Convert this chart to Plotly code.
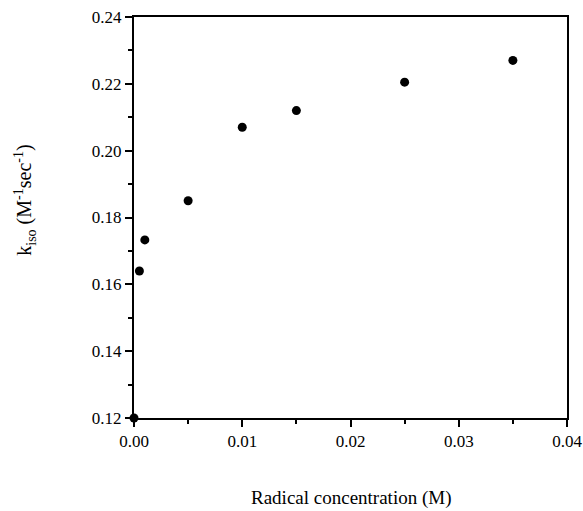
import plotly.graph_objects as go

radical_conc = [0.0, 0.0005, 0.001, 0.005, 0.010, 0.015, 0.025, 0.035]
k_iso = [0.120, 0.164, 0.1733, 0.185, 0.207, 0.212, 0.2205, 0.227]

font = "Liberation Serif, Times New Roman, serif"

fig = go.Figure()
fig.add_trace(go.Scatter(
    x=radical_conc, y=k_iso, mode="markers",
    marker=dict(color="black", size=9),
    cliponaxis=False, showlegend=False,
))

axis_common = dict(
    showgrid=False, zeroline=False, showline=True, linecolor="black", linewidth=2,
    mirror=True, ticks="outside", tickcolor="black", tickwidth=2, ticklen=7,
    tickfont=dict(family=font, size=17, color="black"), automargin=False,
)
fig.update_xaxes(range=[0, 0.04], tickvals=[0, 0.01, 0.02, 0.03, 0.04],
                 ticktext=["0.00", "0.01", "0.02", "0.03", "0.04"],
                 minor=dict(tickvals=[0.005, 0.015, 0.025, 0.035], ticks="outside",
                            ticklen=4, tickwidth=2, tickcolor="black"),
                 **axis_common)
fig.update_yaxes(range=[0.12, 0.24], tickvals=[0.12, 0.14, 0.16, 0.18, 0.20, 0.22, 0.24],
                 ticktext=["0.12", "0.14", "0.16", "0.18", "0.20", "0.22", "0.24"],
                 minor=dict(tickvals=[0.13, 0.15, 0.17, 0.19, 0.21, 0.23], ticks="outside",
                            ticklen=4, tickwidth=2, tickcolor="black"),
                 **axis_common)

fig.add_annotation(text="Radical concentration (M)", xref="paper", yref="paper",
                   x=0.502, y=-0.2, yanchor="middle", showarrow=False,
                   font=dict(family=font, size=19, color="black"))
fig.add_annotation(text="k<sub>iso</sub> (M<sup>-1</sup>sec<sup>-1</sup>)", xref="paper", yref="paper",
                   x=-0.252, y=0.544, xanchor="center", yanchor="middle", textangle=-90,
                   showarrow=False, font=dict(family=font, size=20, color="black"))

fig.update_layout(
    width=583, height=511,
    margin=dict(l=134, r=16, t=17, b=93),
    plot_bgcolor="white", paper_bgcolor="white",
)
fig.write_html("out.html", config={"displayModeBar": False},
               post_script="document.body.style.margin='0';document.body.style.overflow='hidden';")
